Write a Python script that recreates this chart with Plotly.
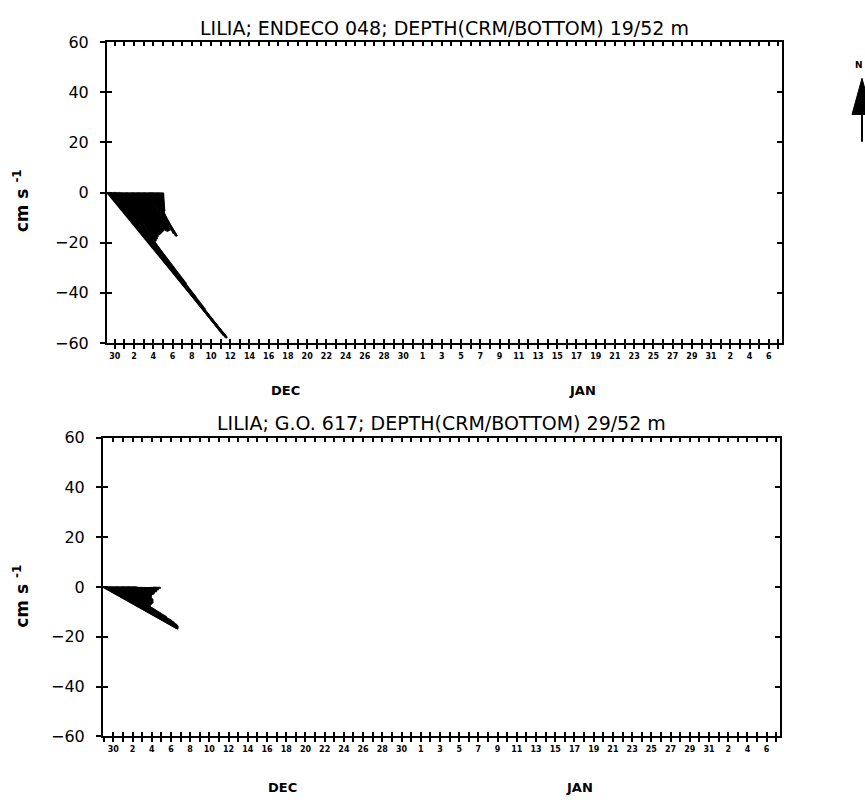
import plotly.graph_objects as go
import pandas as pd

# ---------------- data ----------------
# stick components (cm/s): east (u) and north (v), 3-hourly records
u_top = [46.5, 45.7, 44.4, 42.8, 39.6, 35.6, 31.6, 27.3, 22.9, 18.5, 15.0, 13.3, 12.1, 12.0,
         12.3, 11.5, 11.8, 10.9, 11.2, 10.4, 10.7, 10.6, 9.3, 10.1, 9.2, 9.5, 8.3, 9.0, 8.1,
         8.4, 7.2, 8.3, 7.4, 8.1, 11.1, 7.9, 9.8, 5.8, 8.1, 4.1, 4.8, 2.4, 1.9, 1.9, 1.4, 0.7, 0.5]
v_top = [-58.0, -57.7, -56.9, -55.3, -51.8, -46.8, -42.1, -36.6, -31.6, -26.5, -22.2, -21.0,
         -20.6, -20.3, -19.5, -19.1, -18.7, -18.3, -17.9, -17.5, -17.1, -16.8, -16.4, -16.4,
         -15.6, -16.0, -14.0, -15.6, -14.4, -15.2, -12.9, -15.2, -13.6, -15.6, -17.5, -15.2,
         -17.1, -14.8, -16.4, -14.4, -15.2, -12.1, -10.5, -9.7, -9.0, -8.2, -7.4]

u_bot = [28.9, 28.8, 28.3, 27.5, 26.6, 25.3, 23.7, 21.3, 18.4, 16.0, 13.6, 12.3, 12.6, 11.0,
         12.1, 10.4, 11.5, 9.9, 11.0, 9.3, 9.6, 8.0, 9.1, 7.5, 7.8, 5.7, 6.4, 4.0, 2.0, 0.7,
         0.6, 0.9, 0.1, 0.8, -0.1, 0.6, -0.2, 0.5, -0.4, -0.1, -1.3, -1.4, -1.5, -1.2, -1.3,
         -0.9, -0.6, -0.3]
v_bot = [-16.5, -16.7, -16.1, -15.7, -15.3, -14.5, -13.7, -12.2, -10.6, -9.4, -8.2, -7.5,
         -7.5, -6.7, -7.1, -6.3, -6.7, -5.9, -6.3, -5.5, -5.5, -5.1, -5.5, -4.7, -5.1, -4.3,
         -4.7, -4.3, -4.3, -3.9, -4.3, -4.7, -3.5, -4.7, -3.9, -5.1, -4.3, -5.1, -4.3, -4.7,
         -4.7, -4.3, -3.9, -3.1, -2.7, -2.0, -1.2, -0.6]

start_top = "1990-11-29 06:00"
start_bot = "1990-11-29 00:00"
sample_step = "3h"

titles = ["LILIA; ENDECO 048; DEPTH(CRM/BOTTOM) 19/52 m",
          "LILIA; G.O. 617; DEPTH(CRM/BOTTOM) 29/52 m"]
month_labels = ["DEC", "JAN"]
y_label = "cm s <sup>-1</sup>"

# ---------------- layout geometry ----------------
W, H = 865, 806
boxes = {  # left, right, top, bottom in px
    "top": (107, 782, 34, 342),
    "bot": (103, 780, 439, 745),
}
base = pd.Timestamp("1990-11-30")
xr_days = {"top": (-0.81, 69.37), "bot": (-1.07, 69.39)}
YMIN, YMAX = -60, 60


def dom_x(b):
    return [b[0] / W, b[1] / W]


def dom_y(b):
    return [1 - b[3] / H, 1 - b[2] / H]


def xrange(key):
    a, b = xr_days[key]
    return [str(base + pd.Timedelta(days=a)), str(base + pd.Timedelta(days=b))]


def k_scale(key):
    b = boxes[key]
    a0, a1 = xr_days[key]
    px_per_day = (b[1] - b[0]) / (a1 - a0)
    px_per_unit = (b[3] - b[2]) / (YMAX - YMIN)
    return px_per_unit / px_per_day  # days per cm/s


def sticks(start, u, v, k):
    times = pd.date_range(start, periods=len(u), freq=sample_step)
    xs, ys = [], []
    for t, uu, vv in zip(times, u, v):
        xs += [t.isoformat(), (t + pd.Timedelta(days=uu * k)).isoformat(), None]
        ys += [0, vv, None]
    return xs, ys


fig = go.Figure()
xt, yt = sticks(start_top, u_top, v_top, k_scale("top"))
fig.add_trace(go.Scatter(x=xt, y=yt, mode="lines", line=dict(color="black", width=2.4),
                         xaxis="x", yaxis="y", showlegend=False, hoverinfo="skip"))
xb, yb = sticks(start_bot, u_bot, v_bot, k_scale("bot"))
fig.add_trace(go.Scatter(x=xb, y=yb, mode="lines", line=dict(color="black", width=2.4),
                         xaxis="x2", yaxis="y2", showlegend=False, hoverinfo="skip"))
# dummy traces for overlay (inside-tick) axes
fig.add_trace(go.Scatter(x=[None], y=[None], xaxis="x3", yaxis="y3", showlegend=False))
fig.add_trace(go.Scatter(x=[None], y=[None], xaxis="x4", yaxis="y4", showlegend=False))

FONT = "DejaVu Sans"
xtickfont = dict(family=FONT, size=8, color="black", weight="bold")
ytickfont = dict(family=FONT, size=16, color="black")


def xaxis_cfg(key, anchor, inside=False, overlay=None):
    d = dict(type="date", domain=dom_x(boxes[key]), range=xrange(key), anchor=anchor,
             tick0=str(base), dtick=2 * 86400000, tickformat="%-d",
             ticklen=4, tickwidth=1.5, tickcolor="black",
             showgrid=False, zeroline=False,
             minor=dict(dtick=86400000, tick0=str(base), ticklen=4, tickwidth=1.5,
                        tickcolor="black", showgrid=False,
                        ticks="inside" if inside else "outside"),
             ticks="inside" if inside else "outside", mirror="ticks" if inside else True)
    if inside:
        d.update(overlaying=overlay, showticklabels=False, showline=False)
    else:
        d.update(showline=True, linewidth=2, linecolor="black", tickfont=xtickfont,
                 ticklabelstandoff=0)
    return d


def yaxis_cfg(key, anchor, inside=False, overlay=None):
    d = dict(domain=dom_y(boxes[key]), range=[YMIN, YMAX], anchor=anchor,
             tickmode="linear", tick0=-60, dtick=20, ticklen=5, tickwidth=1.5,
             tickcolor="black", showgrid=False, zeroline=False,
             ticks="inside" if inside else "outside", mirror="ticks" if inside else True)
    if inside:
        d.update(overlaying=overlay, showticklabels=False, showline=False)
    else:
        d.update(showline=True, linewidth=2, linecolor="black", tickfont=ytickfont,
                 ticklabelstandoff=8)
    return d


fig.update_layout(
    width=W, height=H, margin=dict(l=0, r=0, t=0, b=0),
    paper_bgcolor="white", plot_bgcolor="white", showlegend=False,
    xaxis=xaxis_cfg("top", "y"),
    yaxis=yaxis_cfg("top", "x"),
    xaxis2=xaxis_cfg("bot", "y2"),
    yaxis2=yaxis_cfg("bot", "x2"),
    xaxis3=xaxis_cfg("top", "y3", inside=True, overlay="x"),
    yaxis3=yaxis_cfg("top", "x3", inside=True, overlay="y"),
    xaxis4=xaxis_cfg("bot", "y4", inside=True, overlay="x2"),
    yaxis4=yaxis_cfg("bot", "x4", inside=True, overlay="y2"),
)

ann = []
title_y = {"top": 19, "bot": 424}
ylab_y = {"top": 197, "bot": 602}
month_pos = {"top": [(285, 391), (582, 391)], "bot": [(282, 797), (579, 797)]}
for key, title in zip(["top", "bot"], titles):
    b = boxes[key]
    ann.append(dict(text=title, x=(b[0] + b[1]) / 2 / W, y=1 - title_y[key] / H,
                    xref="paper", yref="paper", showarrow=False, xanchor="center",
                    yanchor="middle", font=dict(family=FONT, size=19, color="black")))
    ann.append(dict(text=y_label, x=21 / W, y=1 - ylab_y[key] / H, xref="paper",
                    yref="paper", showarrow=False, textangle=-90, xanchor="center",
                    yanchor="middle",
                    font=dict(family=FONT, size=17, color="black", weight="bold")))
    for lab, (px, py) in zip(month_labels, month_pos[key]):
        ann.append(dict(text=lab, x=px / W, y=1 - py / H, xref="paper", yref="paper",
                        showarrow=False, xanchor="center", yanchor="middle",
                        font=dict(family=FONT, size=13, color="black", weight="bold")))
# north arrow label
ann.append(dict(text="N", x=859 / W, y=1 - 57 / H, xref="paper", yref="paper",
                showarrow=False, xanchor="center", yanchor="middle",
                font=dict(family=FONT, size=9, color="black", weight="bold")))
fig.update_layout(annotations=ann)


def P(x, y):
    return f"{x / W:.5f},{1 - y / H:.5f}"


fig.add_shape(type="path", xref="paper", yref="paper",
              path=f"M {P(852, 108)} L {P(862, 71)} L {P(872, 108)} Z",
              fillcolor="black", line=dict(color="black", width=1))
fig.add_shape(type="line", xref="paper", yref="paper", x0=862 / W, x1=862 / W,
              y0=1 - 106 / H, y1=1 - 136 / H, line=dict(color="black", width=2))

fig.write_html("out.html", config={"displayModeBar": False},
               post_script="document.body.style.margin='0px';"
                           "document.body.style.overflow='hidden';")
